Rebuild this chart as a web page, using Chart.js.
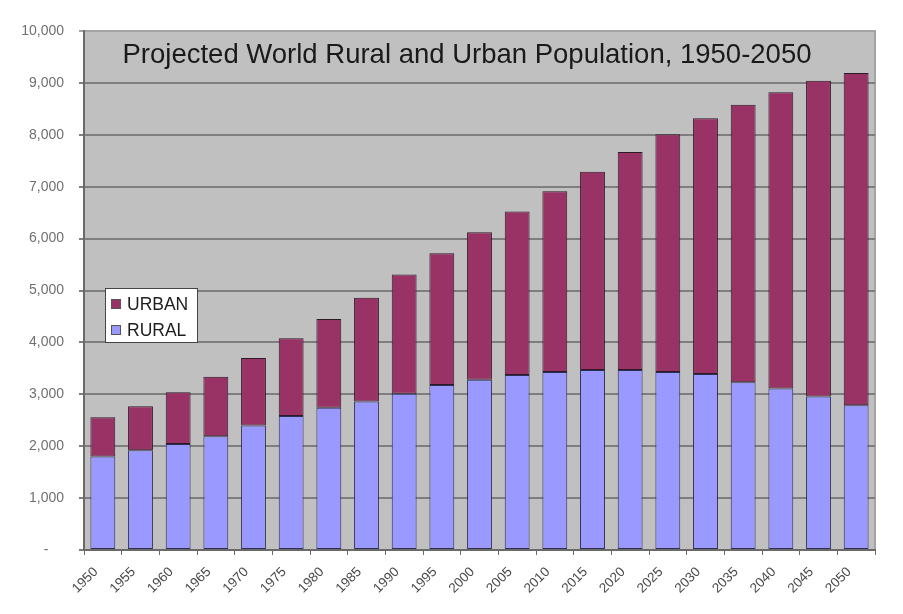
<!DOCTYPE html>
<html>
<head>
<meta charset="utf-8">
<script src="https://cdn.jsdelivr.net/npm/chart.js@4"></script>
<style>
  body { margin: 0; background: #fff; }
  #wrap { width: 903px; height: 614px; position: relative; }
</style>
</head>
<body>
<div id="wrap"><canvas id="popChart"></canvas></div>
<script>
const years = ['1950', '1955', '1960', '1965', '1970', '1975', '1980', '1985', '1990', '1995', '2000',
  '2005', '2010', '2015', '2020', '2025', '2030', '2035', '2040', '2045', '2050'];
const rural = [1800, 1920, 2040, 2190, 2400, 2580, 2740, 2860, 3010, 3180, 3280,
  3370, 3430, 3470, 3470, 3430, 3390, 3230, 3110, 2960, 2790];
const urban = [760, 850, 1000, 1150, 1300, 1500, 1710, 2000, 2300, 2540, 2840,
  3150, 3480, 3820, 4200, 4580, 4930, 5350, 5710, 6080, 6400];
const yTicks = [0, 1000, 2000, 3000, 4000, 5000, 6000, 7000, 8000, 9000, 10000];
const chartTitle = 'Projected World Rural and Urban Population, 1950-2050';

const FONT = '"Liberation Sans", Arial, sans-serif';

// gray plot background, title and inset legend
const plotDecor = {
  id: 'plotDecor',
  beforeDraw(chart) {
    const { ctx, chartArea: a } = chart;
    ctx.save();
    ctx.fillStyle = '#c0c0c0';
    ctx.fillRect(a.left, a.top, a.right - a.left, a.bottom - a.top);
    ctx.strokeStyle = '#a4a4a4';
    ctx.lineWidth = 2;
    ctx.beginPath();
    ctx.moveTo(a.left, a.top);
    ctx.lineTo(a.right, a.top);
    ctx.lineTo(a.right, a.bottom);
    ctx.stroke();
    ctx.restore();
  },
  afterDraw(chart) {
    const { ctx, chartArea: a } = chart;
    ctx.save();
    ctx.fillStyle = '#1a1a1a';
    ctx.font = '27.5px ' + FONT;
    ctx.textAlign = 'center';
    ctx.textBaseline = 'alphabetic';
    ctx.fillText(chartTitle, a.left + 383, a.top + 32);

    // legend box (urban listed first)
    const bx = a.left + 21, by = a.top + 257;
    ctx.fillStyle = '#ffffff';
    ctx.fillRect(bx, by, 92, 54);
    ctx.strokeStyle = '#444';
    ctx.lineWidth = 1;
    ctx.strokeRect(bx + 0.5, by + 0.5, 92, 54);
    const items = chart.data.datasets.slice().reverse();
    ctx.font = '17.5px ' + FONT;
    ctx.textAlign = 'left';
    ctx.textBaseline = 'middle';
    items.forEach((ds, i) => {
      const cy = by + 16 + i * 26;
      ctx.fillStyle = ds.backgroundColor;
      ctx.fillRect(bx + 6, cy - 5, 10, 10);
      ctx.strokeStyle = '#555';
      ctx.strokeRect(bx + 6.5, cy - 4.5, 9, 9);
      ctx.fillStyle = '#1e1e1e';
      ctx.fillText(ds.label, bx + 22, cy + 1);
    });
    ctx.restore();
  },
};

new Chart(document.getElementById('popChart'), {
  type: 'bar',
  data: {
    labels: years,
    datasets: [
      {
        label: 'RURAL',
        data: rural,
        backgroundColor: '#9999ff',
        borderColor: '#2e2e50',
        borderWidth: 1,
        borderSkipped: false,
        barPercentage: 0.66,
        categoryPercentage: 1,
      },
      {
        label: 'URBAN',
        data: urban,
        backgroundColor: '#993366',
        borderColor: '#2e1a26',
        borderWidth: 1,
        borderSkipped: false,
        barPercentage: 0.66,
        categoryPercentage: 1,
      },
    ],
  },
  options: {
    responsive: true,
    maintainAspectRatio: false,
    animation: false,
    layout: { padding: { top: 31, right: 28, left: 0, bottom: 0 } },
    plugins: { legend: { display: false }, tooltip: { enabled: false }, title: { display: false } },
    scales: {
      x: {
        stacked: true,
        afterFit: (scale) => { scale.height = 64; },
        grid: { offset: true, drawOnChartArea: false, tickLength: 5, color: '#6a6a6a', lineWidth: 1 },
        border: { color: '#6a6a6a', width: 2 },
        ticks: {
          color: '#4a4a4a',
          font: { family: FONT, size: 13.5 },
          minRotation: 45,
          maxRotation: 45,
          autoSkip: false,
          padding: 9,
          labelOffset: -7,
        },
      },
      y: {
        stacked: true,
        min: 0,
        max: 10000,
        afterFit: (scale) => { scale.width = 84; },
        afterBuildTicks: (scale) => { scale.ticks = yTicks.map((v) => ({ value: v })); },
        grid: {
          tickLength: 5,
          lineWidth: 2,
          color: (c) => (c.tick && c.tick.value === 10000 ? '#a4a4a4' : '#7e7e7e'),
        },
        border: { color: '#6a6a6a', width: 2 },
        ticks: {
          color: '#707070',
          font: { family: FONT, size: 14 },
          padding: 15,
          callback: (v) => (v === 0 ? '-    ' : v.toLocaleString('en-US')),
        },
      },
    },
  },
  plugins: [plotDecor],
});
</script>
</body>
</html>
